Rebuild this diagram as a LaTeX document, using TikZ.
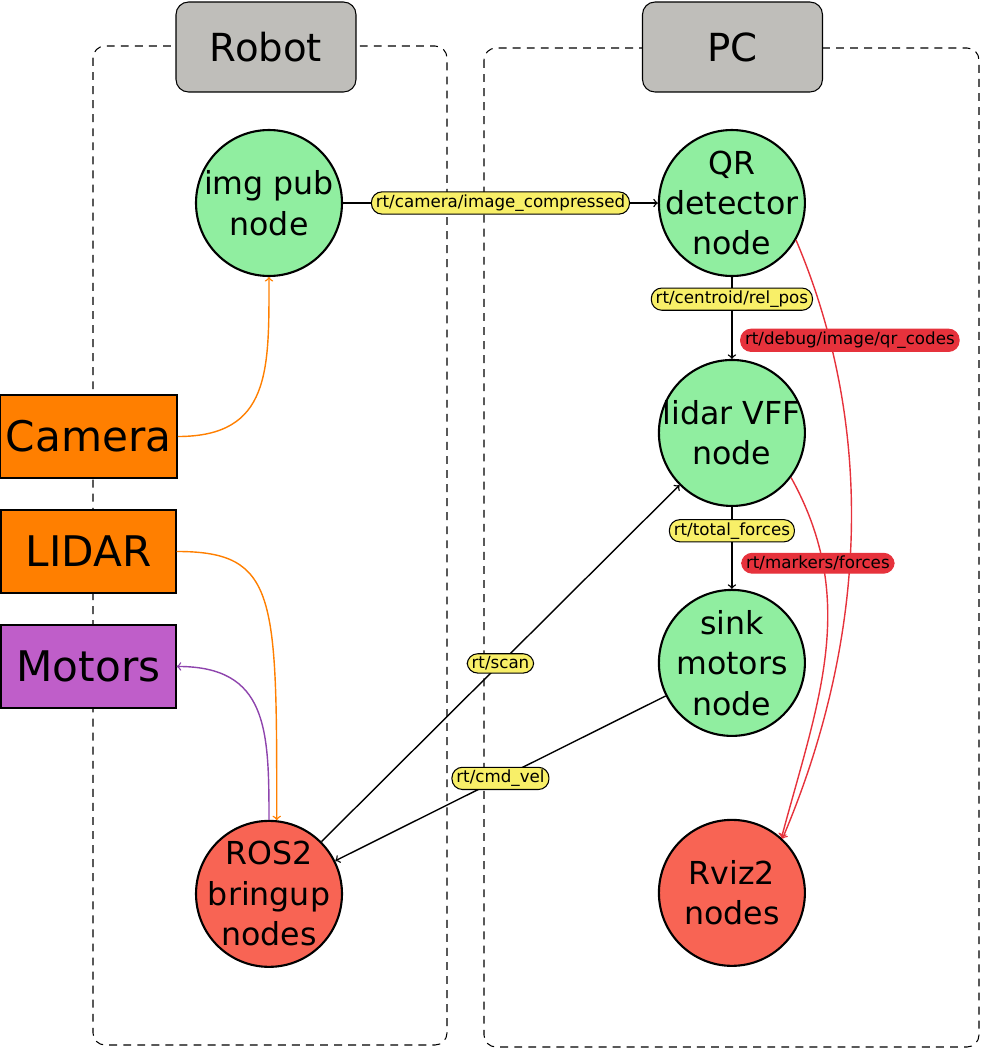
\documentclass[tikz,border=0pt]{standalone}
\usepackage{fontspec}
\setmainfont{DejaVu Sans}
\usetikzlibrary{positioning, arrows}
\definecolor{nodegreen}{RGB}{144,238,160}
\definecolor{nodered}{RGB}{248,100,84}
\definecolor{hworange}{RGB}{255,127,0}
\definecolor{hwpurple}{RGB}{191,94,201}
\definecolor{linepurple}{RGB}{142,68,173}
\definecolor{titlegray}{RGB}{191,190,186}
\definecolor{topicyellow}{RGB}{248,239,104}
\definecolor{topicred}{RGB}{230,50,60}
\tikzset{
        >=to, % open arrow heads
        node distance=4.6cm, % centre to centre between two ros nodes
        rosnode/.style={circle, draw, line width=1.2pt, fill=nodegreen, minimum size=2.92cm, inner sep=-12pt, align=center, font=\fontsize{18}{23}\selectfont}, % green ros node
        viznode/.style={rosnode, fill=nodered}, % red ros node
        hw/.style={rectangle, draw, line width=0.8pt, minimum width=3.5cm, minimum height=1.66cm, font=\fontsize{24}{28}\selectfont}, % hardware box
        machine/.style={draw, dash pattern=on 4.5pt off 3.5pt, line width=0.6pt, rounded corners=0.24cm}, % dashed group
        groupname/.style={draw, line width=0.6pt, fill=titlegray, rounded corners=0.25cm, minimum width=3.6cm, minimum height=1.8cm, font=\fontsize{22}{26}\selectfont}, % group title
        topic/.style={draw, line width=0.6pt, fill=topicyellow, rounded corners=6pt, inner ysep=1.6pt, inner xsep=2.5pt, font=\fontsize{9.5}{11}\selectfont}, % topic label
        debug/.style={topic, fill=topicred}, % debug topic label
        link/.style={->, line width=0.8pt}, % topic edge
    }

\begin{document}
\begin{tikzpicture}[x=0.02cm, y=-0.02cm]
    \useasboundingbox (0,0) rectangle (981,1049);
    % machines
    \draw[machine] (93,46) rectangle (447,1045);
    \draw[machine] (484,48) rectangle (979,1047);
    \node[groupname] (robot) at (266,47) {Robot};
    \node[groupname] (pc) at (732.5,47) {PC};
    % ros nodes
    \node[rosnode] (imgpub) at (269,203) {img pub\\node};
    \node[rosnode, right of=imgpub, node distance=9.26cm] (qr) {QR\\detector\\node};
    \node[rosnode, below of=qr] (vff) {lidar VFF\\node};
    \node[rosnode, below of=vff] (sink) {sink\\motors\\node};
    \node[viznode, below of=sink] (rviz) {Rviz2\\nodes};
    \node[viznode, below of=imgpub, node distance=13.82cm] (bringup) {ROS2\\bringup\\nodes};
    % hardware
    \node[hw, fill=hworange] (camera) at (88.5,436.5) {Camera};
    \node[hw, fill=hworange, below of=camera, node distance=2.3cm] (lidar) {LIDAR};
    \node[hw, fill=hwpurple, below of=lidar, node distance=2.3cm] (motors) {Motors};
    % topics
    \draw[link] (imgpub) -- node[topic] {rt/camera/image\_compressed} (qr);
    \draw[link] (qr) -- node[topic, pos=0.27] {rt/centroid/rel\_pos} (vff);
    \draw[link] (vff) -- node[topic, pos=0.29] {rt/total\_forces} (sink);
    \draw[link] (sink) -- node[topic] {rt/cmd\_vel} (bringup);
    \draw[link] (bringup) -- node[topic] {rt/scan} (vff);
    \draw[link, topicred] (qr.-30) to[out=-67, in=67, looseness=0.9] node[debug, text=black, pos=0.17, xshift=0.4cm] {rt/debug/image/qr\_codes} (rviz.47);
    \draw[link, topicred] (vff.-37) to[out=-61, in=75] node[debug, text=black, pos=0.24, xshift=-0.1cm] {rt/markers/forces} (rviz.48);
    % drivers
    \draw[link, hworange] (camera.east) to[out=0, in=-90, looseness=1.3] (imgpub.south);
    \draw[link, hworange] (lidar.east) to[out=0, in=90, out looseness=0.9, in looseness=2] (bringup.84);
    \draw[link, linepurple] (bringup.north) to[out=90, in=0, looseness=1.3] (motors.east);
\end{tikzpicture}
\end{document}
